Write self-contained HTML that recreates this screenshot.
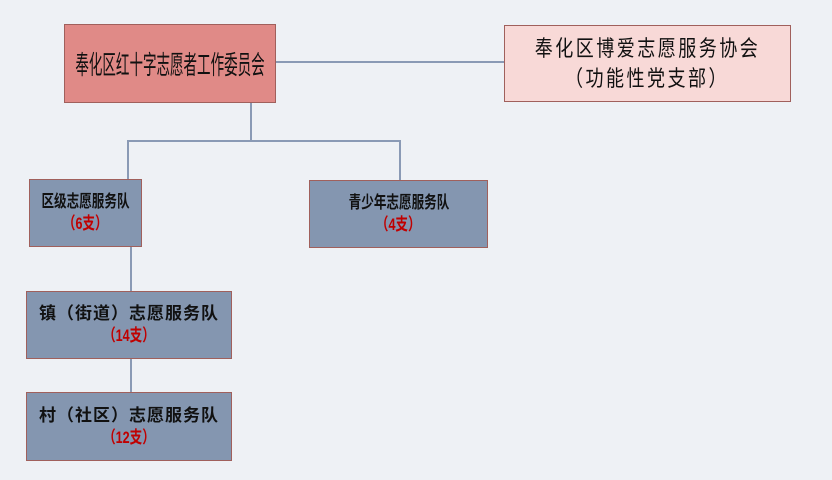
<!DOCTYPE html>
<html><head><meta charset="utf-8"><style>
body{margin:0;width:832px;height:480px;background:#eef1f5;position:relative;overflow:hidden;font-family:"Liberation Sans","Noto Sans CJK SC",sans-serif;}
.b{position:absolute;box-sizing:border-box;display:flex;flex-direction:column;align-items:center;justify-content:center;text-align:center;color:#111;border:1px solid #a0605c;white-space:nowrap;}
.b div{transform:scaleX(0.74);}
.bl{background:#8496b0;font-size:17px;line-height:22px;font-weight:bold;}
.r{color:#c00000;}
.l{position:absolute;background:#8a9ab5;}
</style></head><body>
<div class="l" style="left:275px;top:61px;width:229px;height:2px"></div>
<div class="l" style="left:250px;top:102px;width:2px;height:40px"></div>
<div class="l" style="left:127px;top:140px;width:274px;height:2px"></div>
<div class="l" style="left:127px;top:140px;width:2px;height:40px"></div>
<div class="l" style="left:399px;top:140px;width:2px;height:41px"></div>
<div class="l" style="left:130px;top:246px;width:2px;height:46px"></div>
<div class="l" style="left:130px;top:358px;width:2px;height:35px"></div>
<div class="b" style="left:64px;top:24px;width:212px;height:79px;background:#e08a87;font-size:26px;"><div style="transform:scaleX(0.52)">奉化区红十字志愿者工作委员会</div></div>
<div class="b" style="left:504px;top:25px;width:287px;height:77px;background:#f8d9d7;font-size:22px;line-height:30px;"><div style="transform:scaleX(0.82);letter-spacing:3px">奉化区博爱志愿服务协会</div><div style="transform:scaleX(0.82);letter-spacing:3px">（功能性党支部）</div></div>
<div class="b bl" style="left:29px;top:179px;width:113px;height:68px"><div>区级志愿服务队</div><div class="r">（6支）</div></div>
<div class="b bl" style="left:309px;top:180px;width:179px;height:68px"><div>青少年志愿服务队</div><div class="r">（4支）</div></div>
<div class="b bl" style="left:26px;top:291px;width:206px;height:68px"><div style="transform:none;letter-spacing:1px">镇（街道）志愿服务队</div><div class="r">（14支）</div></div>
<div class="b bl" style="left:26px;top:392px;width:206px;height:69px"><div style="transform:none;letter-spacing:1px">村（社区）志愿服务队</div><div class="r">（12支）</div></div>
</body></html>
